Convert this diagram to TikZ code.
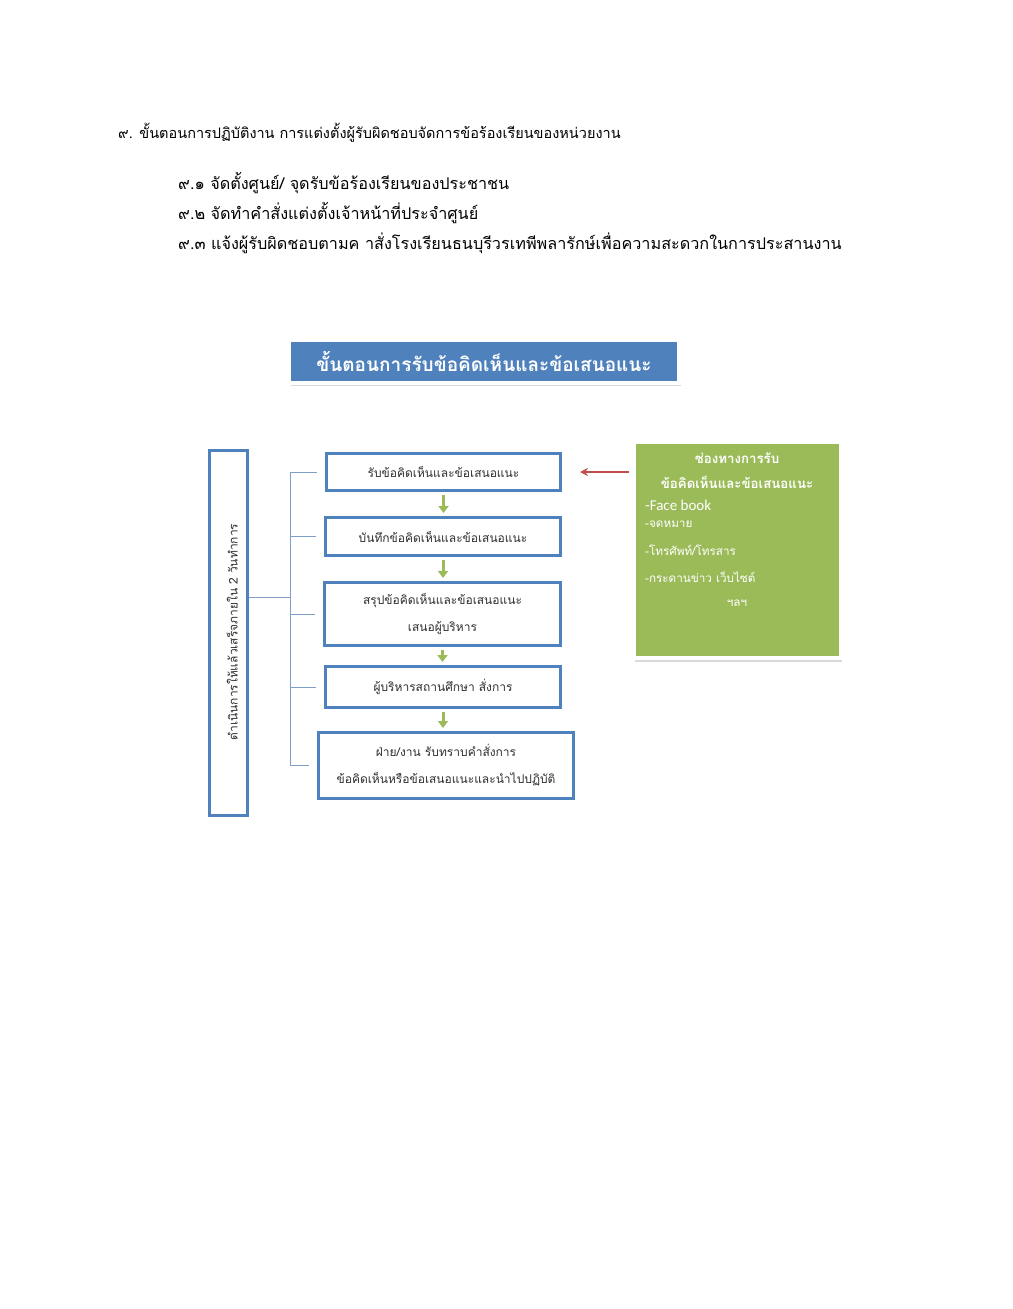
\documentclass[tikz,border=0pt]{standalone}
\usepackage{fontspec}
\setmainfont[Script=Thai]{Loma}
\newfontfamily\thaifont[Script=Thai]{Loma}
\newfontfamily\latinfont{Carlito}
\usetikzlibrary{arrows.meta,positioning,calc,shadows}
\definecolor{flowblue}{HTML}{4F81BD}
\definecolor{flowgreen}{HTML}{9BBB59}
\definecolor{flowred}{HTML}{C0504D}
\definecolor{bracketblue}{HTML}{7F9FC8}
\definecolor{textgray}{HTML}{303030}
\tikzset{
  headline/.style={anchor=west,inner sep=0pt,font=\thaifont\fontsize{14.5}{17}\selectfont,text=black},
  subline/.style={headline,font=\thaifont\fontsize{16.2}{18}\selectfont},
  titlebox/.style={fill=flowblue,draw=white,line width=4pt,minimum width=390pt,minimum height=43pt,
    text=white,font=\thaifont\bfseries\fontsize{19}{22}\selectfont,
    drop shadow={shadow xshift=1.5pt,shadow yshift=-3.5pt,opacity=0.3}},
  stepbox/.style={draw=flowblue,line width=3pt,fill=white,align=center,text=textgray,
    font=\thaifont\fontsize{12}{27}\selectfont,inner sep=0pt},
  sidebox/.style={draw=flowblue,line width=3pt,fill=white,minimum width=38pt,minimum height=365pt},
  channelbox/.style={fill=flowgreen,draw=white,line width=4pt,minimum width=207pt,minimum height=216pt,
    drop shadow={shadow xshift=1.5pt,shadow yshift=-3.5pt,opacity=0.3}},
  channeltext/.style={text=white,inner sep=0pt,font=\thaifont\fontsize{11.7}{13}\selectfont},
  channelhead/.style={channeltext,font=\thaifont\bfseries\fontsize{13.3}{15}\selectfont},
  greenarrow/.style={-{Triangle[length=7pt,width=10pt]},line width=3pt,draw=flowgreen,
    shorten <=3pt,shorten >=3pt},
  redarrow/.style={-{Stealth[length=8pt,width=8pt]},line width=2pt,draw=flowred},
  bracketline/.style={draw=bracketblue,line width=0.8pt}
}
\begin{document}
\begin{tikzpicture}[x=1pt,y=-1pt]
  \useasboundingbox (0,0) rectangle (1012,1309);
  \node[headline] (head) at (118,133) {๙. ขั้นตอนการปฏิบัติงาน การแต่งตั้งผู้รับผิดชอบจัดการข้อร้องเรียนของหน่วยงาน};
  \node[subline] (sub1) at (178,183) {๙.๑ จัดตั้งศูนย์/ จุดรับข้อร้องเรียนของประชาชน};
  \node[subline] (sub2) at (178,213) {๙.๒ จัดทำคำสั่งแต่งตั้งเจ้าหน้าที่ประจำศูนย์};
  \node[subline] (sub3) at (178,243) {๙.๓ แจ้งผู้รับผิดชอบตามค าสั่งโรงเรียนธนบุรีวรเทพีพลารักษ์เพื่อความสะดวกในการประสานงาน};

  \node[titlebox] (title) at (484,361) {ขั้นตอนการรับข้อคิดเห็นและข้อเสนอแนะ};

  \node[stepbox,minimum width=234pt,minimum height=37pt] (b1) at (443.5,472) {รับข้อคิดเห็นและข้อเสนอแนะ};
  \node[stepbox,minimum width=235pt,minimum height=38pt] (b2) at (443,536.5) {บันทึกข้อคิดเห็นและข้อเสนอแนะ};
  \node[stepbox,minimum width=236pt,minimum height=63pt] (b3) at (442.5,614) {สรุปข้อคิดเห็นและข้อเสนอแนะ\\เสนอผู้บริหาร};
  \node[stepbox,minimum width=235pt,minimum height=41pt] (b4) at (443,687) {ผู้บริหารสถานศึกษา สั่งการ};
  \node[stepbox,minimum width=255pt,minimum height=66pt] (b5) at (446,765.5) {ฝ่าย/งาน  รับทราบคำสั่งการ\\ข้อคิดเห็นหรือข้อเสนอแนะและนำไปปฏิบัติ};

  \foreach \a/\b in {b1/b2,b2/b3,b3/b4,b4/b5}
    \draw[greenarrow] (\a.south) -- (\a.south |- \b.north);

  \node[sidebox] (side) at (228.5,633) {};
  \node[rotate=90,text=textgray,font=\thaifont\fontsize{12}{14}\selectfont] (sidetext) at (232,632)
    {ดำเนินการให้แล้วเสร็จภายใน 2 วันทำการ};

  \coordinate (spine) at (290,597);
  \draw[bracketline] (spine -| side.east) -- (spine);
  \draw[bracketline] (spine |- b1.west) -- (spine |- b5.west);
  \foreach \n in {b1,b2,b3,b4,b5}
    \draw[bracketline] (spine |- \n.west) -- ([xshift=-8pt]\n.west);

  \node[channelbox] (channels) at (737,550) {};
  \node[channelhead] (ch1) at (737,458) {ช่องทางการรับ};
  \node[channelhead] (ch2) at (737,482) {ข้อคิดเห็นและข้อเสนอแนะ};
  \node[channeltext,anchor=west,font=\latinfont\fontsize{15}{16}\selectfont] (ch3) at (645,505) {-Face book};
  \node[channeltext,anchor=west] (ch4) at (645,524) {-จดหมาย};
  \node[channeltext,anchor=west] (ch5) at (645,550) {-โทรศัพท์/โทรสาร};
  \node[channeltext,anchor=west] (ch6) at (645,577) {-กระดานข่าว เว็บไซต์};
  \node[channeltext] (ch7) at (737,603) {ฯลฯ};

  \draw[redarrow,shorten <=3pt,shorten >=18pt] (channels.west |- b1.east) -- (b1.east);
\end{tikzpicture}
\end{document}
